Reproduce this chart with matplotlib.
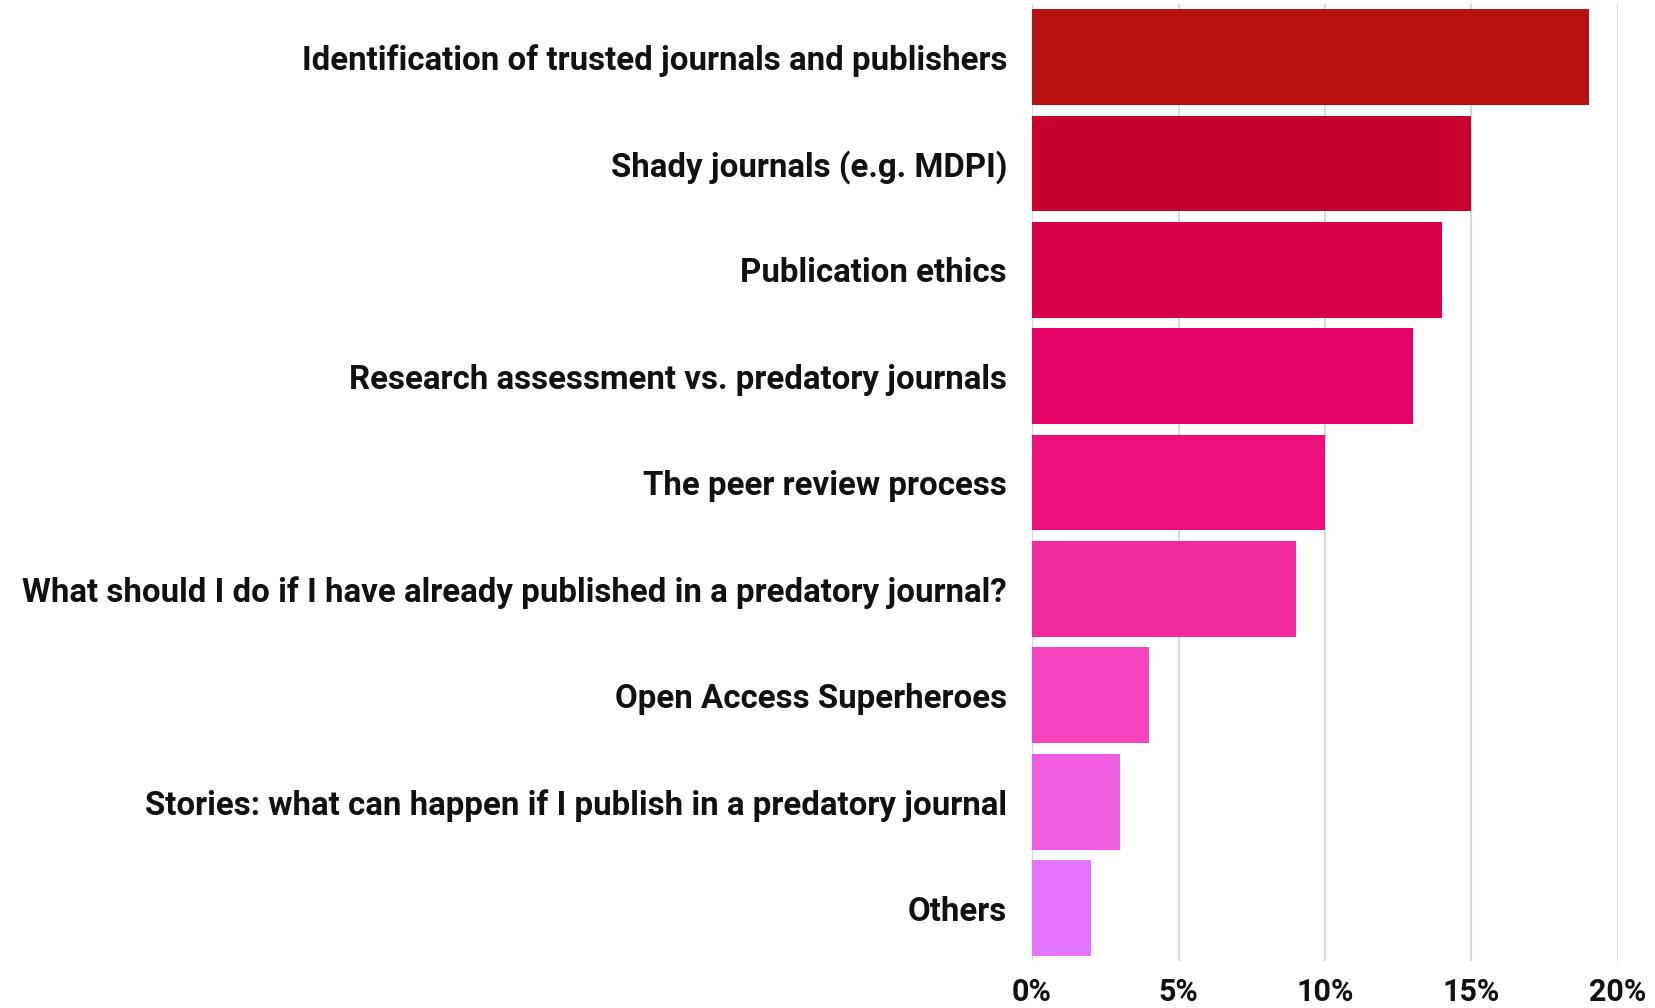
import matplotlib.pyplot as plt

topics = [
    "Identification of trusted journals and publishers",
    "Shady journals (e.g. MDPI)",
    "Publication ethics",
    "Research assessment vs. predatory journals",
    "The peer review process",
    "What should I do if I have already published in a predatory journal?",
    "Open Access Superheroes",
    "Stories: what can happen if I publish in a predatory journal",
    "Others",
]
shares = [19, 15, 14, 13, 10, 9, 4, 3, 2]
colors = ["#B71010", "#C7002E", "#D9004A", "#E50065", "#EE0F7E",
          "#F22A9A", "#F444BF", "#F05CE0", "#E275FB"]
ticks = [0, 5, 10, 15, 20]

plt.rcParams['font.family'] = ['Roboto', 'DejaVu Sans']

fig = plt.figure(figsize=(16.55, 10.08), dpi=100)
ax = fig.add_axes([0.6236, 0.0464, 0.354, 0.9496])

y = list(range(len(topics)))
ax.barh(y, shares, height=0.9, color=colors, zorder=2)
ax.set_ylim(len(topics) - 0.5, -0.5)
ax.set_xlim(0, 20)

for t in ticks:
    ax.axvline(t, color="#d9d9d9", linewidth=1.5, zorder=1)

ax.set_yticks(y)
ax.set_yticklabels(topics, fontsize=23.8, fontweight="bold", color="#111111")
ax.set_xticks(ticks)
ax.set_xticklabels([f"{t}%" for t in ticks], fontsize=22, fontweight="bold", color="#111111")
ax.tick_params(axis="y", length=0, pad=18)
ax.tick_params(axis="x", length=0, pad=11)
for s in ax.spines.values():
    s.set_visible(False)

fig.savefig("out.png", dpi=100)
